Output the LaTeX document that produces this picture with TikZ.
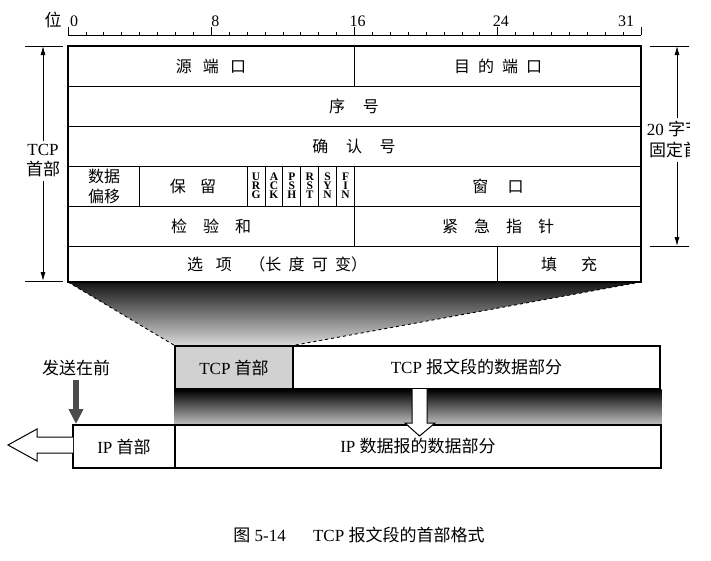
\documentclass[tikz,border=0pt]{standalone}
\usepackage{fontspec}
\setmainfont{Liberation Serif}
\newfontfamily\cjk{Noto Sans CJK SC}
\usetikzlibrary{arrows.meta,backgrounds}

\newcommand\zh[1]{{\cjk #1}}
\newcommand\gp[1]{\hspace{#1em}}

\tikzset{
  field/.style={font=\fontsize{16}{19}\selectfont},
  flag/.style={font=\bfseries\fontsize{11.5}{9}\selectfont, align=center, inner sep=0pt},
  lbl/.style={font=\fontsize{17}{20}\selectfont, align=center},
  segbox/.style={draw, line width=1.3pt, minimum height=43pt, inner sep=0pt, font=\fontsize{17}{20}\selectfont},
  dimarrow/.style={line width=0.8pt, -{Latex[length=9pt,width=5pt]}},
  hollow/.style={draw, fill=white, line width=1pt, line join=miter},
}

\begin{document}
\begin{tikzpicture}[x=1pt, y=-1pt, line width=0.9pt]
  \useasboundingbox (0,0) rectangle (711,560);

  % bit ruler
  \node[lbl] (wei) at (53,20) {\zh{位}};
  \draw[line width=0.8pt] (68,35) -- (641,35);
  \foreach \b in {0,...,32} \draw[line width=0.7pt] (68+\b*17.906,35) -- ++(0,-3.5);
  \foreach \b in {0,8,16,24,32} \draw[line width=0.8pt] (68+\b*17.906,35) -- ++(0,-8);
  \foreach \b/\dx in {0/6,8/4,16/3,24/3,31/3}
    \node[field, anchor=base, inner sep=0pt] (bit\b) at (68+\b*17.906+\dx,26.5) {\b};

  % header fields
  \draw[line width=1.6pt] (68,46) rectangle (641,282);
  \foreach \y in {86,126,166,206,246} \draw (68,\y) -- (641,\y);
  \draw (354.5,46) -- (354.5,86);
  \foreach \b in {4,10,11,...,16} \draw (68+\b*17.906,166) -- ++(0,40);
  \draw (354.5,206) -- (354.5,246);
  \draw (497.7,246) -- (497.7,282);

  \node[field] (src) at (211,66) {\zh{源\gp{0.7}端\gp{0.7}口}};
  \node[field] (dst) at (498,66) {\zh{目\gp{0.5}的\gp{0.5}端\gp{0.5}口}};
  \node[field] (seq) at (354,106) {\zh{序\gp{1.1}号}};
  \node[field] (ack) at (354,146) {\zh{确\gp{1.1}认\gp{1.1}号}};
  \node[field, align=center, font=\fontsize{16}{20}\selectfont] (off) at (104,186) {\zh{数据}\\\zh{偏移}};
  \node[field] (rsv) at (193,186) {\zh{保\gp{0.9}留}};
  \foreach \f [count=\i from 10] in {{U\\R\\G},{A\\C\\K},{P\\S\\H},{R\\S\\T},{S\\Y\\N},{F\\I\\N}}
    \node[flag] (flag\i) at (68+\i*17.906+8.95,186) {\f};
  \node[field] (win) at (498,186) {\zh{窗\gp{1.2}口}};
  \node[field] (chk) at (211,226) {\zh{检\gp{1}验\gp{1}和}};
  \node[field] (urp) at (498,226) {\zh{紧\gp{1}急\gp{1}指\gp{1}针}};
  \node[field] (opt) at (277,264) {\zh{选\gp{0.8}项\gp{1.1}（长\gp{0.45}度\gp{0.45}可\gp{0.45}变）}};
  \node[field] (pad) at (569,264) {\zh{填\gp{1.5}充}};

  % header length marks
  \coordinate (ltop) at (43,46);
  \coordinate (lbot) at (43,281);
  \draw (25,46) -- (63,46);
  \draw (25,281) -- (63,281);
  \node[lbl] (tcplbl) at (43,161) {TCP\\\zh{首部}};
  \draw[dimarrow] (tcplbl) -- (ltop);
  \draw[dimarrow] (tcplbl) -- (lbot);

  \begin{scope}
    \clip (640,0) rectangle (689,300);
    \coordinate (rtop) at (677,46);
    \coordinate (rbot) at (677,246);
    \draw (650,46) -- (711,46);
    \draw (650,246) -- (711,246);
    \node[lbl, font=\fontsize{17}{21}\selectfont] (fixlbl) at (683,140) {20 \zh{字节的}\\\zh{固定首部}};
    \draw[dimarrow] (fixlbl.north -| rtop) -- (rtop);
    \draw[dimarrow] (fixlbl.south -| rbot) -- (rbot);
  \end{scope}

  % segment and datagram
  \node[segbox, fill=black!18, minimum width=118pt] (tcph) at (234,367.5) {TCP \zh{首部}};
  \node[segbox, fill=white, minimum width=367pt] (tcpd) at (476.5,367.5) {TCP \zh{报文段的数据部分}};
  \node[segbox, fill=white, minimum width=102pt] (iph) at (124,446.5) {IP \zh{首部}};
  \node[segbox, fill=white, minimum width=486pt] (ipd) at (418,446.5) {IP \zh{数据报的数据部分}};

  \begin{scope}[on background layer]
    \shade[top color=black!92, bottom color=black!15] (68,282) -- (641,282) -- (tcph.north east) -- (tcph.north west) -- cycle;
    \shade[top color=black, bottom color=black!25] (tcph.south west) rectangle (ipd.north east);
  \end{scope}
  \draw[dashed] (68,282) -- (tcph.north west);
  \draw[dashed] (641,282) -- (tcph.north east);

  % arrows
  \node[lbl] (send) at (76,368) {\zh{发送在前}};
  \coordinate (sendtip) at (76,424);
  \draw[line width=6pt, black!70, -{Triangle[length=15pt,width=14pt]}] (send) -- (sendtip);
  \draw[hollow] (73,437) -- (37,437) -- (37,429) -- (8,445) -- (37,461) -- (37,453) -- (73,453);
  \draw[hollow] (412,389) -- (412,423) -- (405,423) -- (419.5,436) -- (435,423) -- (427,423) -- (427,389);

  % caption
  \node[lbl] (cap) at (359,535) {\zh{图} 5-14\gp{1.6}TCP \zh{报文段的首部格式}};
\end{tikzpicture}
\end{document}
